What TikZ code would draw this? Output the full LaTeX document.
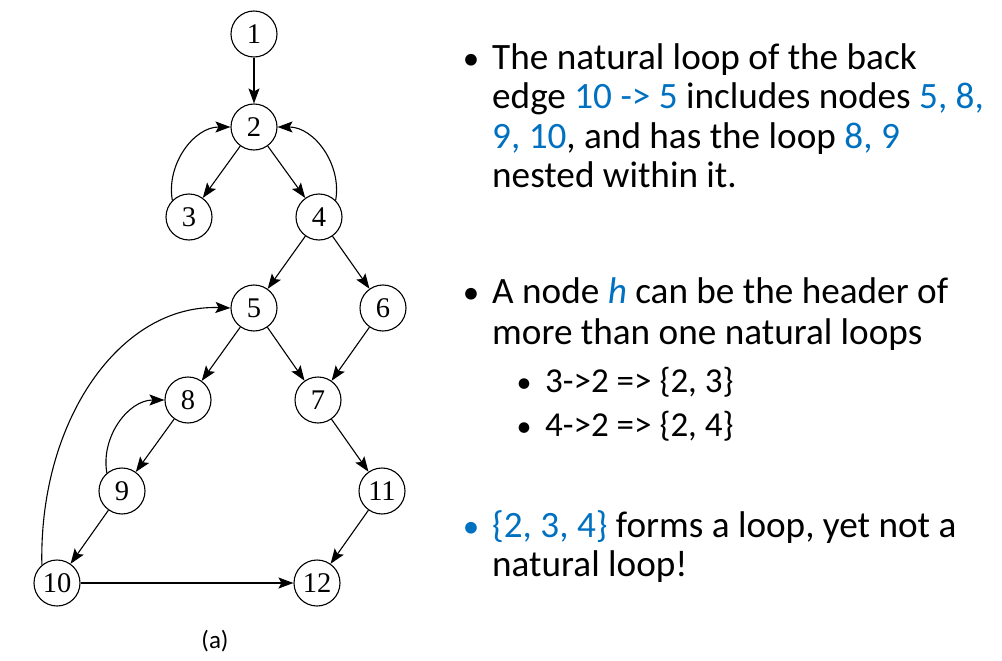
\documentclass[tikz,border=0pt]{standalone}
\usepackage{fontspec}
\setmainfont{Liberation Serif}
\newfontfamily\calfont{Carlito}
\usetikzlibrary{arrows.meta}
\definecolor{myblue}{HTML}{0070C0}
\begin{document}
\begin{tikzpicture}[x=1pt,y=-1pt,
  vtx/.style={circle,draw,line width=1.1pt,minimum size=46pt,inner sep=0pt,font=\fontsize{28.5}{30}\selectfont},
  edge/.style={line width=1.1pt,-{Stealth[length=15pt,width=11pt,inset=3pt]}},
  txt/.style={anchor=base west,inner sep=0pt,font=\calfont\fontsize{37.2}{40}\selectfont},
  subtxt/.style={anchor=base west,inner sep=0pt,font=\calfont\fontsize{35}{38}\selectfont},
  blt/.style={anchor=base,inner sep=0pt,font=\calfont\fontsize{33}{36}\selectfont}]
\useasboundingbox (0,0) rectangle (1002,661);
\node[vtx] (n1) at (254,34) {1};
\node[vtx] (n2) at (254,127) {2};
\node[vtx] (n3) at (189,217) {3};
\node[vtx] (n4) at (319,217) {4};
\node[vtx] (n5) at (254,308) {5};
\node[vtx] (n6) at (383,308) {6};
\node[vtx] (n8) at (188,400) {8};
\node[vtx] (n7) at (318,400) {7};
\node[vtx] (n9) at (122,491) {9};
\node[vtx] (n11) at (382,491) {11};
\node[vtx] (n10) at (57,583) {10};
\node[vtx] (n12) at (317,583) {12};
\node[inner sep=0pt,font=\calfont\fontsize{25}{28}\selectfont] (cap) at (215,641) {(a)};
\draw[edge] (n1) -- (n2);
\draw[edge] (n2) -- (n3);
\draw[edge] (n2) -- (n4);
\draw[edge] (n4) -- (n5);
\draw[edge] (n4) -- (n6);
\draw[edge] (n5) -- (n8);
\draw[edge] (n5) -- (n7);
\draw[edge] (n6) -- (n7);
\draw[edge] (n8) -- (n9);
\draw[edge] (n9) -- (n10);
\draw[edge] (n7) -- (n11);
\draw[edge] (n11) -- (n12);
\draw[edge] (n10) -- (n12);
\draw[edge] (n3.135) to[out=100,in=180] (n2.west);
\draw[edge] (n4.45) to[out=80,in=0] (n2.east);
\draw[edge] (n9.130) to[out=100,in=180] (n8.west);
\draw[edge] (n10.130) .. controls +(-3,-145) and +(-110,-4) .. (n5.west);
% text
\node[blt] (b1) at (471,70) {•};
\node[txt] (t1) at (492,70) {The natural loop of the back};
\node[txt] (t2) at (492,109) {edge \textcolor{myblue}{10 -> 5} includes nodes \textcolor{myblue}{5, 8,}};
\node[txt] (t3) at (492,148) {\textcolor{myblue}{9, 10}, and has the loop \textcolor{myblue}{8, 9}};
\node[txt] (t4) at (492,187) {nested within it.};
\node[blt] (b2) at (471,303) {•};
\node[txt] (t5) at (492,303) {A node \textcolor{myblue}{\itshape h} can be the header of};
\node[txt] (t6) at (492,344) {more than one natural loops};
\node[blt,font=\calfont\fontsize{30}{32}\selectfont] (b3) at (524,392) {•};
\node[subtxt] (t7) at (545,392) {3->2 => \{2, 3\}};
\node[blt,font=\calfont\fontsize{30}{32}\selectfont] (b4) at (524,436) {•};
\node[subtxt] (t8) at (545,436) {4->2 => \{2, 4\}};
\node[blt,text=myblue] (b5) at (471,537) {•};
\node[txt] (t9) at (492,537) {\textcolor{myblue}{\{2, 3, 4\}} forms a loop, yet not a};
\node[txt] (t10) at (492,576) {natural loop!};
\end{tikzpicture}
\end{document}
